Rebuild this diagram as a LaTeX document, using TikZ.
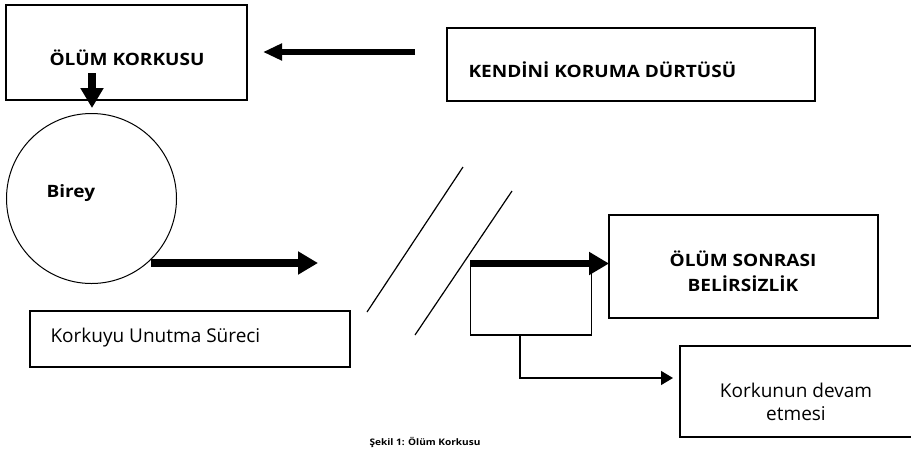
\documentclass[tikz,border=0pt]{standalone}
\usepackage{fontspec}
\setmainfont{Open Sans}[BoldFeatures={FakeStretch=1.12}]
\usetikzlibrary{arrows.meta, positioning}

\begin{document}
\begin{tikzpicture}[
    x=1pt, y=-1pt,
    box/.style={rectangle, draw=black, line width=1.4pt, inner sep=0pt, align=center},
    lbl/.style={font=\fontsize{17}{25}\selectfont\bfseries, align=center},
    txt/.style={font=\fontsize{19}{23}\selectfont, align=center},
    fat/.style={line width=#1, -{Triangle[length=20pt, width=22pt]}},
    thin/.style={line width=1.3pt, -{Triangle[length=12pt, width=14pt]}}
]
\useasboundingbox[fill=white] (0,0) rectangle (911,448);

% boxes
\node[box, minimum width=241pt, minimum height=95pt] (fear) at (126.5,52.5) {};
\node[lbl] at (127,58) {ÖLÜM KORKUSU};
\node[box, minimum width=368pt, minimum height=73pt] (drive) at (631,64.5) {};
\node[lbl, anchor=west] at (465,70) {KENDİNİ KORUMA DÜRTÜSÜ};
\node[circle, draw=black, line width=1pt, minimum size=170pt, inner sep=0pt] (self) at (91.5,198.5) {};
\node[lbl, anchor=west] at (43,193) {Birey};
\node[box, minimum width=320pt, minimum height=56pt] (forget) at (190,339) {};
\node[txt, anchor=west] at (47,338) {Korkuyu Unutma Süreci};
\node[box, minimum width=121pt, minimum height=69pt] (mid) at (531,300.5) {};
\node[box, minimum width=269pt, minimum height=103pt] (after) at (743.5,266.5) {};
\node[lbl] at (743,271) {ÖLÜM SONRASI\\BELİRSİZLİK};
\node[box, minimum width=233pt, minimum height=91pt] (cont) at (796.5,391.5) {};
\node[txt] at (796,402) {Korkunun devam\\etmesi};

% slashes
\coordinate (s1a) at (367,312); \coordinate (s1b) at (463,167);
\coordinate (s2a) at (415,335); \coordinate (s2b) at (512,191);
\draw[line width=1.2pt] (s1a) -- (s1b);
\draw[line width=1.2pt] (s2a) -- (s2b);

% arrows
\coordinate (driveOut) at (415,52);
\coordinate (fearIn) at (263,52);
\coordinate (fearOut) at (92,73);
\coordinate (selfIn) at (92,108);
\coordinate (selfOut) at (151,263);
\coordinate (selfTip) at (318,263);
\coordinate (midOut) at (470,263.5);
\coordinate (afterIn) at (609,263.5);
\coordinate (bend) at (520,378);
\coordinate (contIn) at (673,378);
\draw[line width=6.5pt, -{Triangle[length=19pt, width=16pt]}] (driveOut) -- (fearIn);
\draw[line width=8pt, -{Triangle[length=20pt, width=22pt]}] (fearOut) -- (selfIn);
\draw[fat=7.5pt] (selfOut) -- (selfTip);
\draw[fat=7pt] (midOut) -- (afterIn);
\draw[thin] (mid.south -| bend) -- (bend) -- (contIn);

% caption
\node[font=\fontsize{9}{11}\selectfont\bfseries, anchor=base west] (cap) at (366,445) {Şekil 1: Ölüm Korkusu};
\end{tikzpicture}
\end{document}
